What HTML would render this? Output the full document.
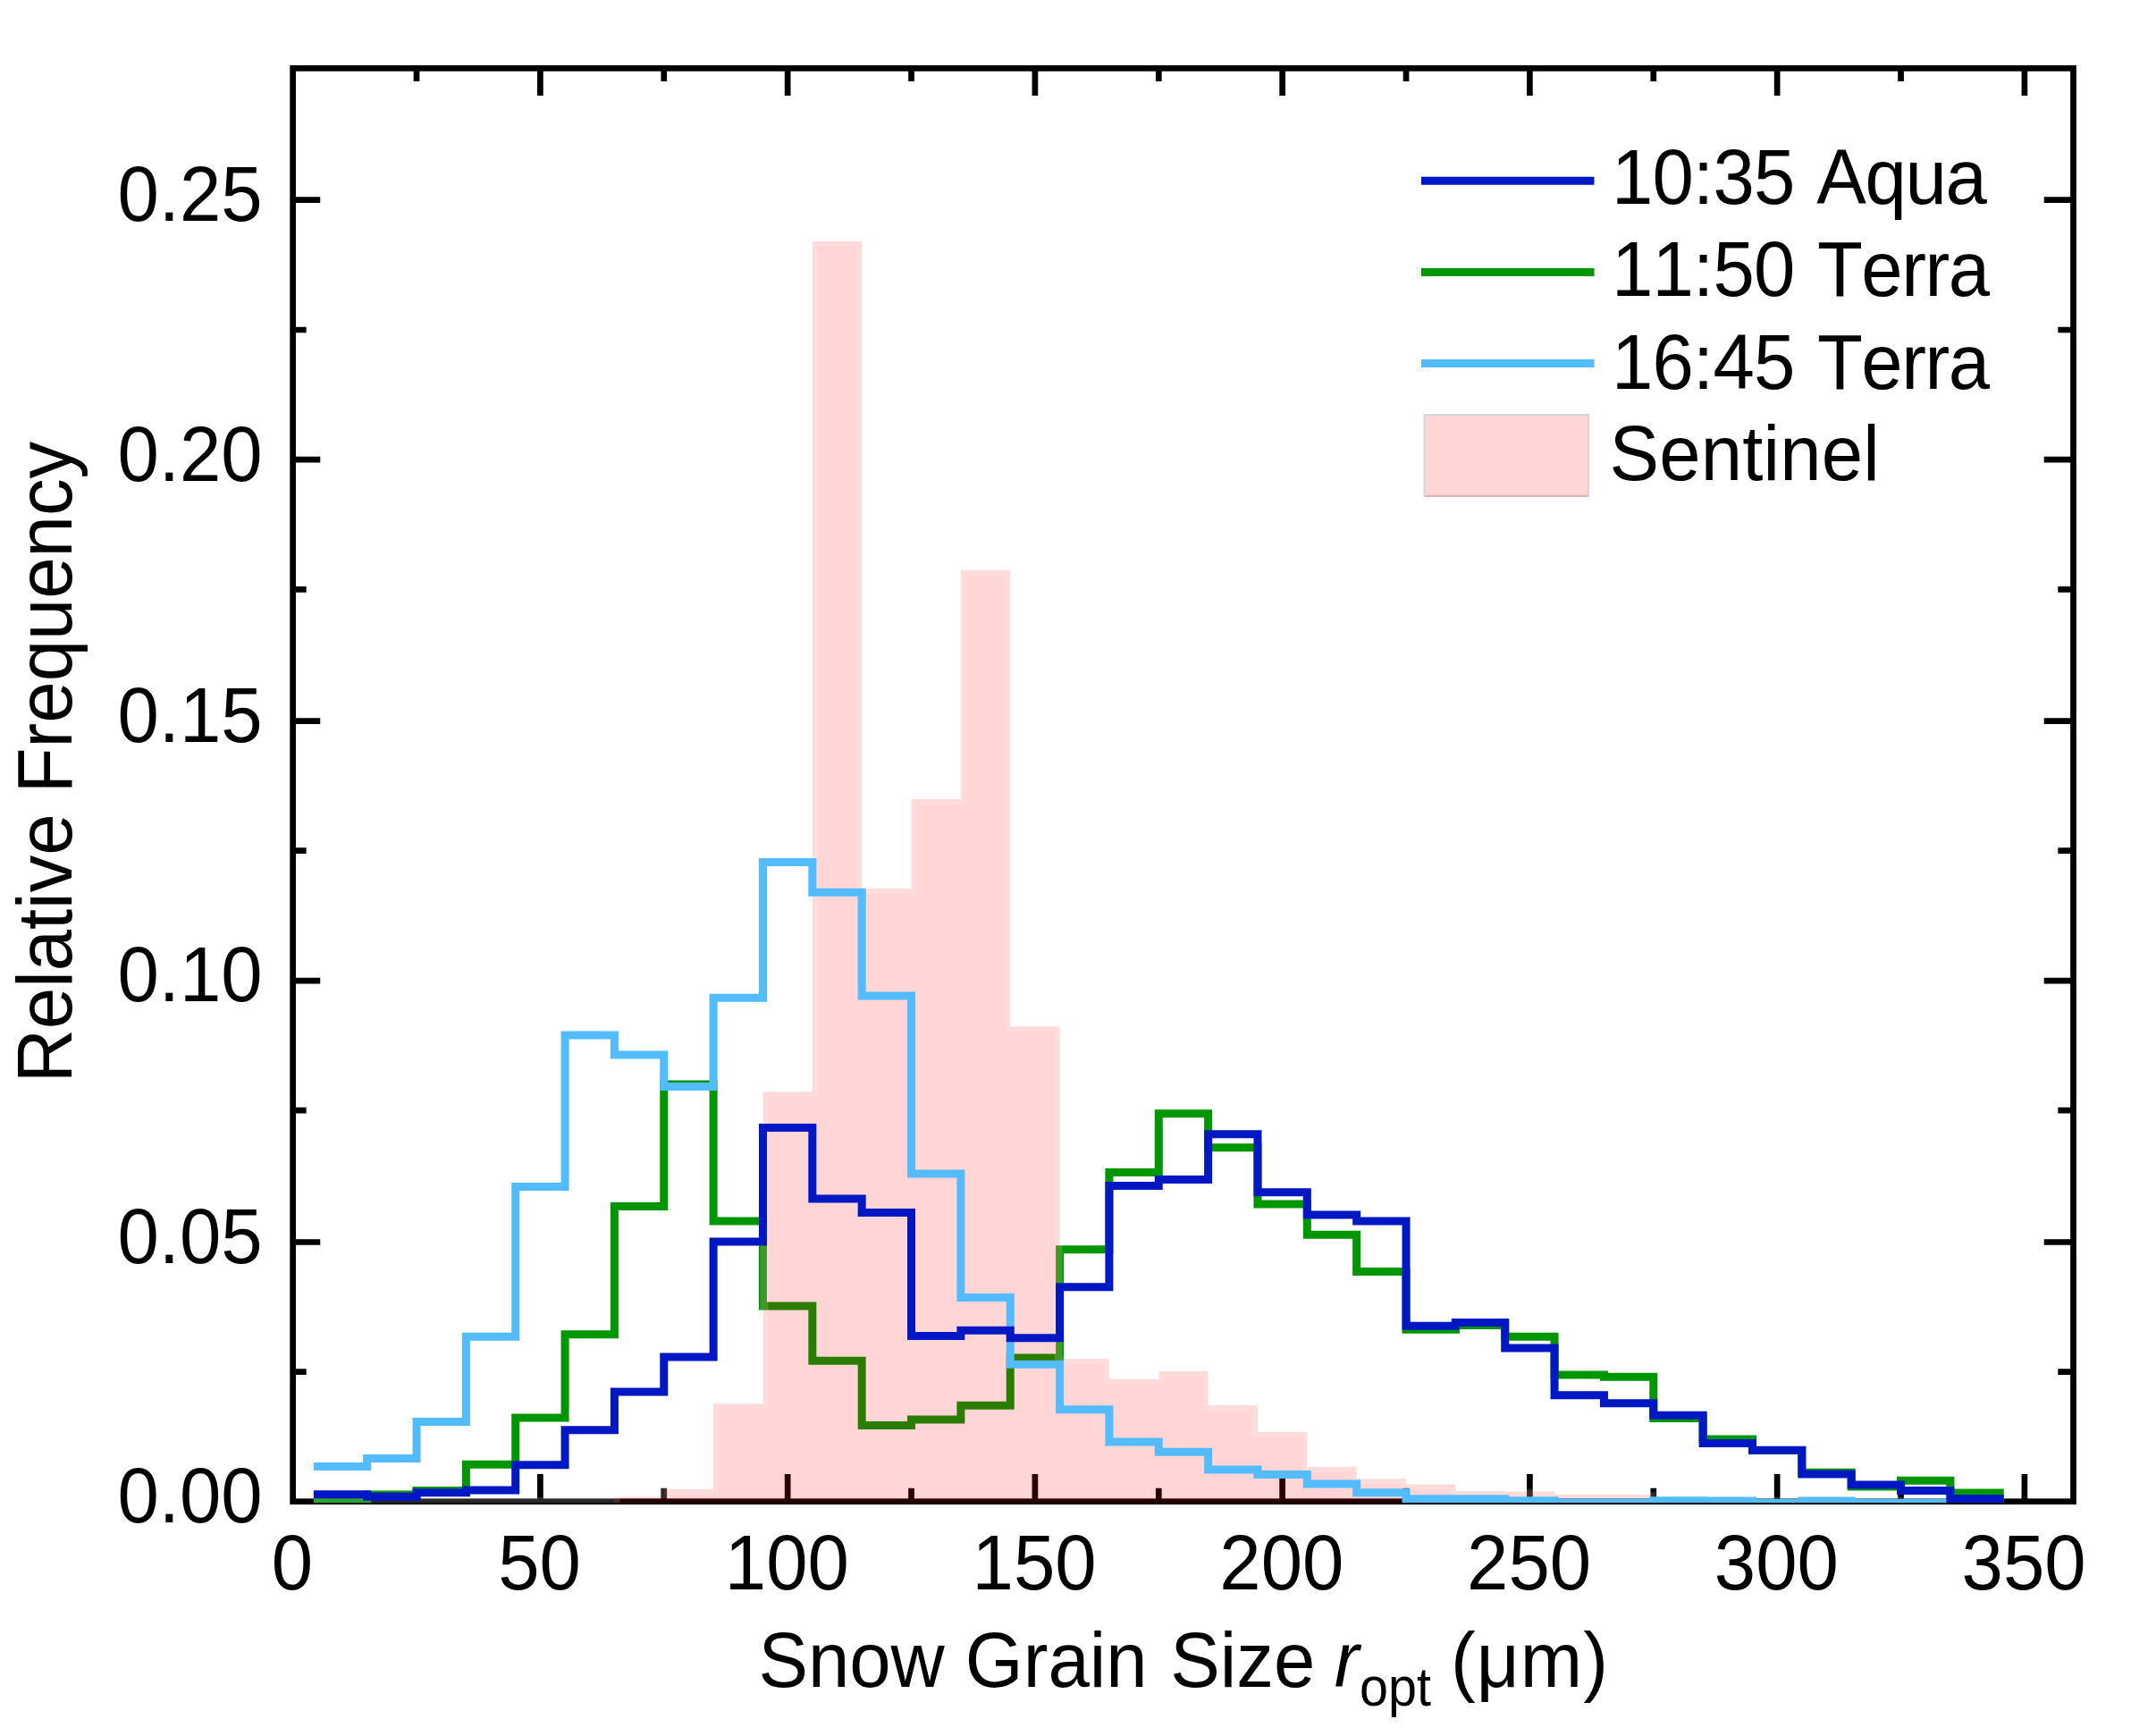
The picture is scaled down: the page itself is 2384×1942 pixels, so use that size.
<!DOCTYPE html>
<html lang="en"><head><meta charset="utf-8"><title>Snow grain size histogram</title>
<style>html,body{margin:0;padding:0;background:#fff}body{width:2384px;height:1942px;overflow:hidden}svg{display:block}text{font-kerning:none;font-family:'Liberation Sans', sans-serif;font-size:83.3px;fill:#000}</style>
</head><body>
<svg width="2384" height="1942" viewBox="0 0 2384 1942">
<rect width="2384" height="1942" fill="#fff"/>
<defs><clipPath id="plot"><rect x="327.65" y="76.4" width="1991.85" height="1604.6"/></clipPath></defs>
<g stroke="#000" stroke-width="6.7" fill="none" stroke-linecap="butt">
<rect x="327.65" y="76.4" width="1991.85" height="1603.3"/>
<path d="M466.02 1679.7v-15M466.02 76.4v14.7M604.4 1679.7v-30.6M604.4 76.4v30.6M742.77 1679.7v-15M742.77 76.4v14.7M881.15 1679.7v-30.6M881.15 76.4v30.6M1019.52 1679.7v-15M1019.52 76.4v14.7M1157.9 1679.7v-30.6M1157.9 76.4v30.6M1296.28 1679.7v-15M1296.28 76.4v14.7M1434.65 1679.7v-30.6M1434.65 76.4v30.6M1573.03 1679.7v-15M1573.03 76.4v14.7M1711.4 1679.7v-30.6M1711.4 76.4v30.6M1849.78 1679.7v-15M1849.78 76.4v14.7M1988.15 1679.7v-30.6M1988.15 76.4v30.6M2126.53 1679.7v-15M2126.53 76.4v14.7M2264.9 1679.7v-30.6M2264.9 76.4v30.6M327.65 1534.7h15M2319.5 1534.7h-17.2M327.65 1389.5h30.6M2319.5 1389.5h-32.8M327.65 1242.2h15M2319.5 1242.2h-17.2M327.65 1097.1h30.6M2319.5 1097.1h-32.8M327.65 951.7h15M2319.5 951.7h-17.2M327.65 806.6h30.6M2319.5 806.6h-32.8M327.65 659.35h15M2319.5 659.35h-17.2M327.65 514.2h30.6M2319.5 514.2h-32.8M327.65 369h15M2319.5 369h-17.2M327.65 223.6h30.6M2319.5 223.6h-32.8"/>
</g>
<g clip-path="url(#plot)" fill="none" stroke-width="9" stroke-linejoin="miter" stroke-linecap="square">
<path stroke="#009600" d="M355.32 1681H410.67V1672.1H466.02V1667.4H521.38V1638.3H576.73V1586H632.08V1492.7H687.42V1349.6H742.77V1213H798.12V1366H853.48V1461H908.83V1522.2H964.17V1594.4H1019.52V1588H1074.88V1572.2H1130.22V1519H1185.58V1397.7H1240.92V1311.5H1296.28V1245.7H1351.62V1283.7H1406.97V1347H1462.32V1381.2H1517.68V1422.4H1573.03V1487.3H1628.38V1482.6H1683.72V1495.3H1739.07V1538H1794.43V1540.2H1849.78V1586.5H1905.12V1610H1960.47V1622.4H2015.82V1647.3H2071.18V1662.9H2126.53V1656.2H2181.88V1669.9H2237.22"/>
<path fill="rgba(255,0,0,0.165)" stroke="none" d="M687.42 1682.5V1674.5H742.77V1665.7H798.12V1570.3H853.48V1221.2H908.83V270H964.17V994.1H1019.52V893.9H1074.88V637.7H1130.22V1148.2H1185.58V1520H1240.92V1542.8H1296.28V1533.9H1351.62V1571.9H1406.97V1602H1462.32V1641H1517.68V1654.3H1573.03V1660.6H1628.38V1667.9H1683.72V1668.5H1739.07V1672H1794.43V1672H1849.78V1682.5Z"/>
<path stroke="rgba(255,255,255,0.165)" d="M355.32 1679.5H688.92V1676M744.27 1671.5V1667.2H799.62V1571.8H854.98V1222.7H910.33V271.5H962.67V995.6H1021.02V895.4H1076.38V639.2H1128.72V1149.7H1184.08V1521.5H1239.42V1544.3H1297.78V1535.4H1350.12V1573.4H1405.47V1603.5H1460.82V1642.5H1516.18V1655.8H1571.53V1662.1H1626.88V1669.4H1682.22V1670H1737.57V1673.5H1848.28V1679.5H2237.22"/>
<path stroke="#52bcff" d="M355.32 1640.4H410.67V1631.4H466.02V1590.5H521.38V1495.3H576.73V1327.4H632.08V1157.9H687.42V1180.1H742.77V1215.6H798.12V1116.3H853.48V964.5H908.83V998.3H964.17V1114H1019.52V1313.1H1074.88V1451.5H1130.22V1526.3H1185.58V1576.7H1240.92V1613.1H1296.28V1624.2H1351.62V1644.1H1406.97V1649.5H1462.32V1660H1517.68V1669.8H1573.03V1676.8H1628.38V1676.8H1683.72V1678.8H1739.07V1681.1H1794.43V1681.1H1849.78V1678.8H1905.12V1679.1H1960.47V1681.3H2015.82V1679.1H2071.18V1681.3H2126.53V1681.3H2181.88V1681.3H2237.22"/>
<path stroke="#0018c4" d="M355.32 1671.8H410.67V1674.2H466.02V1669.7H521.38V1667.1H576.73V1638.8H632.08V1599.8H687.42V1557H742.77V1518H798.12V1389.1H853.48V1261.5H908.83V1341H964.17V1356.5H1019.52V1494.6H1074.88V1488.3H1130.22V1496.8H1185.58V1439.8H1240.92V1326.4H1296.28V1319.5H1351.62V1268.8H1406.97V1333.7H1462.32V1359.1H1517.68V1366H1573.03V1483.2H1628.38V1479.4H1683.72V1507.9H1739.07V1560.8H1794.43V1569.7H1849.78V1583.3H1905.12V1614.6H1960.47V1622.2H2015.82V1649.1H2071.18V1661H2126.53V1667.4H2181.88V1676.4H2237.22"/>
</g>
<text transform="translate(326.85 1778.2) scale(1 1.05)" text-anchor="middle">0</text>
<text transform="translate(603.6 1778.2) scale(1 1.05)" text-anchor="middle">50</text>
<text transform="translate(880.35 1778.2) scale(1 1.05)" text-anchor="middle">100</text>
<text transform="translate(1157.1 1778.2) scale(1 1.05)" text-anchor="middle">150</text>
<text transform="translate(1433.85 1778.2) scale(1 1.05)" text-anchor="middle">200</text>
<text transform="translate(1710.6 1778.2) scale(1 1.05)" text-anchor="middle">250</text>
<text transform="translate(1987.35 1778.2) scale(1 1.05)" text-anchor="middle">300</text>
<text transform="translate(2264.1 1778.2) scale(1 1.05)" text-anchor="middle">350</text>
<text transform="translate(293.6 1703) scale(1 1.05)" text-anchor="end">0.00</text>
<text transform="translate(293.6 1412.8) scale(1 1.05)" text-anchor="end">0.05</text>
<text transform="translate(293.6 1120.4) scale(1 1.05)" text-anchor="end">0.10</text>
<text transform="translate(293.6 829.9) scale(1 1.05)" text-anchor="end">0.15</text>
<text transform="translate(293.6 537.5) scale(1 1.05)" text-anchor="end">0.20</text>
<text transform="translate(293.6 246.9) scale(1 1.05)" text-anchor="end">0.25</text>
<text transform="translate(79.6 1211.3) rotate(-90) scale(1 1.05)">Relative Frequency</text>
<text transform="translate(848.4 1887) scale(1 1.05)">Snow Grain <tspan x="460.8">Size</tspan> <tspan font-style="italic" x="644.3">r</tspan><tspan font-size="57.5" dy="20.1" x="672.6">opt</tspan><tspan dy="-20.1" x="750.5" letter-spacing="1"> (μm)</tspan></text>
<path d="M1594.5 202.3H1779" stroke="#0018c4" stroke-width="9" stroke-linecap="square" fill="none"/>
<path d="M1594.5 304.4H1779" stroke="#009600" stroke-width="9" stroke-linecap="square" fill="none"/>
<path d="M1594.5 406.6H1779" stroke="#52bcff" stroke-width="9" stroke-linecap="square" fill="none"/>
<rect x="1593.55" y="464.15" width="183.5" height="90.8" fill="none" stroke="#d5d5d5" stroke-width="2.1"/>
<rect x="1594.6" y="465.2" width="181.4" height="90.8" fill="rgba(255,0,0,0.165)"/>
<text transform="translate(1802.9 228.4) scale(1 1.05)"><tspan letter-spacing="-0.75">10:35 </tspan><tspan x="229.3" letter-spacing="-1.3">Aqua</tspan></text>
<text transform="translate(1802.9 330.8) scale(1 1.05)"><tspan letter-spacing="-0.75">11:50 </tspan><tspan x="230" letter-spacing="-1.45">Terra</tspan></text>
<text transform="translate(1802.9 434.6) scale(1 1.05)"><tspan letter-spacing="-0.75">16:45 </tspan><tspan x="230" letter-spacing="-1.45">Terra</tspan></text>
<text transform="translate(1800.4 536.7) scale(1 1.05)" letter-spacing="0.2">Sentinel</text>
</svg>
</body></html>
